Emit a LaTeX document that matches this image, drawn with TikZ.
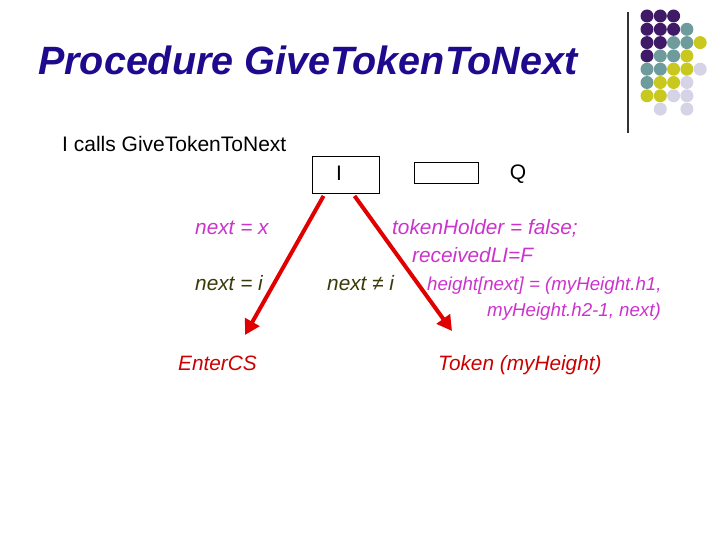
\documentclass[tikz,border=0pt]{standalone}
\usepackage{fontspec}
\setmainfont{Liberation Sans}
\usepackage{xcolor}
\usepackage{tikz}
\usetikzlibrary{calc,arrows.meta}
\definecolor{titleblue}{HTML}{1E0A8C}
\definecolor{magent}{HTML}{CC33CC}
\definecolor{olive}{HTML}{3A3A08}
\definecolor{arrred}{HTML}{E00000}
\definecolor{txtred}{HTML}{CC0000}
\definecolor{dpurp}{HTML}{3F1A66}
\definecolor{teal}{HTML}{6E9C9C}
\definecolor{ylw}{HTML}{C8C81E}
\definecolor{lav}{HTML}{D4D4E6}
\tikzset{
  title/.style={text=titleblue, font=\fontsize{39.5}{46}\selectfont\bfseries\itshape, anchor=base west, inner sep=0pt},
  plain/.style={text=black, font=\fontsize{21}{25}\selectfont, inner sep=0pt},
  box/.style={draw=black, line width=0.9pt, inner sep=0pt},
  cond/.style={text=magent, font=\fontsize{20.8}{25}\selectfont\itshape, anchor=base west, inner sep=0pt},
  condg/.style={text=olive, font=\fontsize{20.8}{25}\selectfont\itshape, anchor=base west, inner sep=0pt},
  act/.style={text=magent, font=\fontsize{18.7}{22}\selectfont\itshape, inner sep=0pt},
  res/.style={text=txtred, font=\fontsize{20.8}{25}\selectfont\itshape, anchor=base west, inner sep=0pt},
  arr/.style={draw=arrred, line width=4pt, -{Triangle[length=15pt,width=16pt]}},
}
\begin{document}
\begin{tikzpicture}[x=1pt,y=-1pt]
  \useasboundingbox (0,0) rectangle (720,540);

  % corner decoration
  \draw[line width=1.2pt, draw=black!80] (628,12) -- (628,133);
  \foreach \c/\r/\col in {0/0/dpurp,1/0/dpurp,2/0/dpurp,
      0/1/dpurp,1/1/dpurp,2/1/dpurp,3/1/teal,
      0/2/dpurp,1/2/dpurp,2/2/teal,3/2/teal,4/2/ylw,
      0/3/dpurp,1/3/teal,2/3/teal,3/3/ylw,
      0/4/teal,1/4/teal,2/4/ylw,3/4/ylw,4/4/lav,
      0/5/teal,1/5/ylw,2/5/ylw,3/5/lav,
      0/6/ylw,1/6/ylw,2/6/lav,3/6/lav,
      1/7/lav,3/7/lav}
    \fill[\col] (647+13.3*\c,16+13.3*\r) circle [radius=6.5pt];

  \node[title] (head) at (38,75) {Procedure GiveTokenToNext};
  \node[plain, anchor=base west] (calls) at (62,152) {I calls GiveTokenToNext};

  % the two boxes
  \node[box, minimum width=67pt, minimum height=37pt] (boxI) at (345.5,175) {};
  \node[plain, anchor=base] (lblI) at (339,180.5) {I};
  \node[box, minimum width=64pt, minimum height=21pt] (boxE) at (446,173) {};
  \node[plain, anchor=base] (lblQ) at (518,179.5) {Q};

  \coordinate (tipL) at (245,335);
  \coordinate (tipR) at (452,331);
  \draw[arr] ($(boxI.south west)+(12,2)$) -- (tipL);
  \draw[arr] ($(boxI.south west)+(43,2)$) -- (tipR);

  % left branch
  \node[cond] (nx) at (195,234) {next = x};
  \node[condg] (ni) at (195,290) {next = i};
  \node[res] (cs) at (178,370) {EnterCS};

  % right branch
  \node[cond] (th) at (392,234) {tokenHolder = false;};
  \node[cond] (rl) at (412,262.5) {receivedLI=F};
  \node[condg] (nn) at (327,290) {next ≠ i};
  \node[act, anchor=base west] (ht) at (427,290) {height[next] = (myHeight.h1,};
  \node[act, anchor=base east] (ht2) at (661,316) {myHeight.h2-1, next)};
  \node[res] (tk) at (438,370) {Token (myHeight)};
\end{tikzpicture}
\end{document}
